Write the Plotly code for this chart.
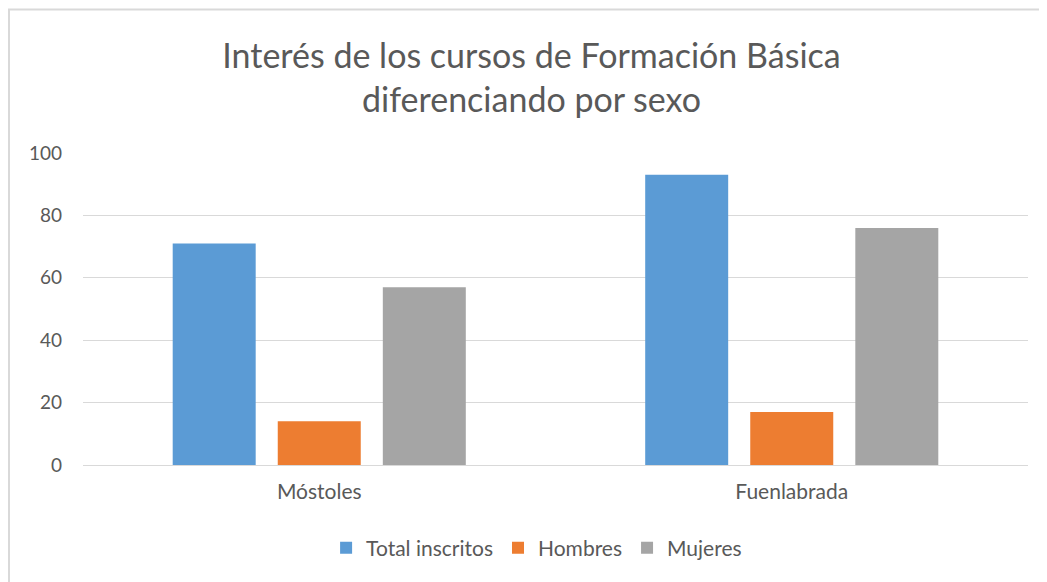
import plotly.graph_objects as go

# data
sedes = ["Móstoles", "Fuenlabrada"]
total_inscritos = [71, 93]
hombres = [14, 17]
mujeres = [57, 76]

series = [
    ("Total inscritos", total_inscritos, "#5B9BD5"),
    ("Hombres", hombres, "#ED7D31"),
    ("Mujeres", mujeres, "#A5A5A5"),
]

FONT = "Lato, 'Open Sans', sans-serif"
GREY_TXT = "#595959"

# the page body adds 8px around the figure, so margins are offset by that
L, R, T, B = 75, 27, 145, 125
PW = 1047 - L - R
PH = 582 - T - B

fig = go.Figure()
for name, vals, col in series:
    fig.add_trace(go.Bar(x=sedes, y=vals, name=name, marker=dict(color=col, line=dict(width=0))))

# chart-area border (only left and top visible)
fig.add_shape(type="rect", xref="paper", yref="paper",
              x0=-(L - 1) / PW, x1=1.2, y0=-0.6, y1=1 + (T - 1.5) / PH,
              line=dict(color="#D9D9D9", width=2), fillcolor="rgba(0,0,0,0)", layer="below")

fig.update_layout(
    width=1047, height=582,
    margin=dict(l=L, r=R, t=T, b=B),
    paper_bgcolor="white", plot_bgcolor="white",
    title=dict(text="Interés de los cursos de Formación Básica<br>diferenciando por sexo",
               x=0.5, xanchor="center", xref="container",
               y=1 - 60 / 582, yanchor="top", yref="container",
               font=dict(family=FONT, size=34, color=GREY_TXT)),
    barmode="group", bargap=0.333, bargroupgap=0.21,
    font=dict(family=FONT, size=19, color=GREY_TXT),
    legend=dict(orientation="h", x=0.48, xanchor="center", y=-0.266, yanchor="middle",
                font=dict(family=FONT, size=21, color=GREY_TXT), itemwidth=30,
                traceorder="normal"),
    showlegend=True,
)
fig.update_yaxes(range=[0, 100], dtick=20, showgrid=True, gridcolor="#D9D9D9", gridwidth=1,
                 zeroline=False, showline=False, ticks="", ticklabelstandoff=20,
                 tickfont=dict(family=FONT, size=19, color=GREY_TXT))
fig.update_xaxes(showline=True, linecolor="#D9D9D9", linewidth=1, ticks="",
                 ticklabelstandoff=8, tickfont=dict(family=FONT, size=21, color=GREY_TXT))

fig.write_html("out.html")
